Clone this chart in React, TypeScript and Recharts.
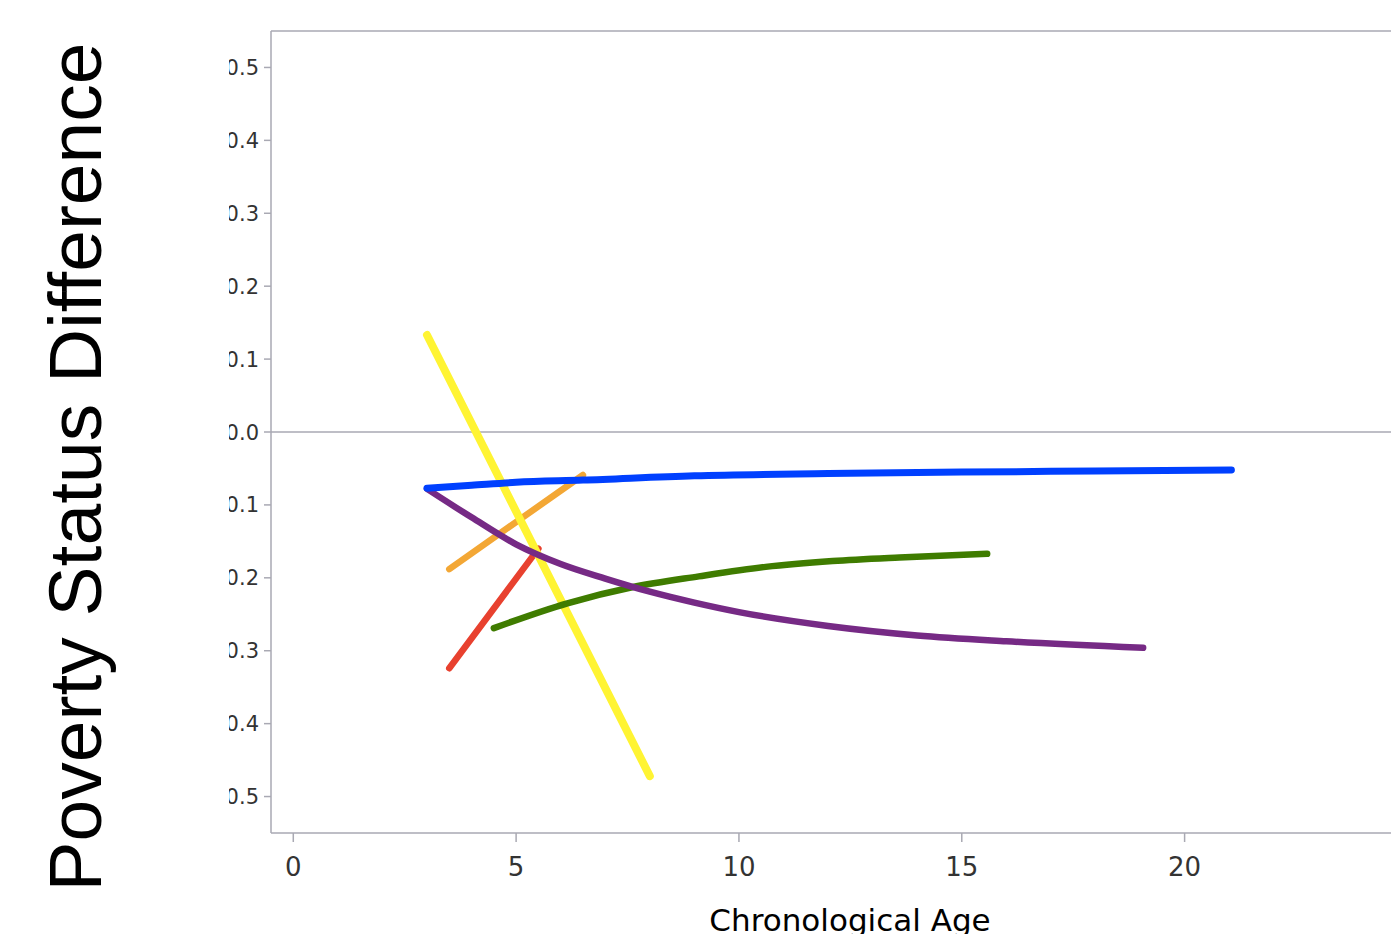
import React from 'react';
import { LineChart, Line, XAxis, YAxis, ReferenceLine, Label } from 'recharts';

// Tick values
const xTicks = [0, 5, 10, 15, 20];
const yTicks = [-0.5, -0.4, -0.3, -0.2, -0.1, 0, 0.1, 0.2, 0.3, 0.4, 0.5];

// Series (age, difference)
const yellowAge = [3, 8];
const yellowDiff = [0.133, -0.472];

const orangeAge = [3.5, 6.5];
const orangeDiff = [-0.188, -0.059];

const redAge = [3.5, 5.5];
const redDiff = [-0.324, -0.16];

const greenAge = [4.5, 6.15, 7.6, 9.1, 10.6, 12.1, 13.6, 15.57];
const greenDiff = [-0.269, -0.235, -0.213, -0.198, -0.185, -0.177, -0.172, -0.167];

const purpleAge = [3, 4, 5, 6, 7, 8, 9, 10, 12, 14, 16, 19.07];
const purpleDiff = [-0.078, -0.117, -0.154, -0.181, -0.201, -0.219, -0.234, -0.247, -0.266, -0.279, -0.287, -0.296];

const blueAge = [3, 4, 5, 6.5, 9, 12, 15, 18, 21.05];
const blueDiff = [-0.077, -0.073, -0.069, -0.066, -0.06, -0.057, -0.055, -0.0535, -0.052];

const toRows = (ages: number[], diffs: number[]) => ages.map((a, i) => ({ age: a, diff: diffs[i] }));

const yellowData = toRows(yellowAge, yellowDiff);
const orangeData = toRows(orangeAge, orangeDiff);
const redData = toRows(redAge, redDiff);
const greenData = toRows(greenAge, greenDiff);
const purpleData = toRows(purpleAge, purpleDiff);
const blueData = toRows(blueAge, blueDiff);

const AXIS_GRAY = '#a9a9b3';
const TICK_FONT = "'DejaVu Sans', Verdana, sans-serif";

const YTick = (props: any) => {
  const { x, y, payload, index } = props;
  const id = `yclip-${index}`;
  return (
    <g>
      <defs>
        <clipPath id={id}>
          <rect x={229} y={y - 30} width={200} height={60} />
        </clipPath>
      </defs>
      <text
        x={x}
        y={y}
        dy="0.36em"
        textAnchor="end"
        fontSize={21}
        fontFamily={TICK_FONT}
        fill="#333"
        clipPath={`url(#${id})`}
      >
        {Number(payload.value).toFixed(1)}
      </text>
    </g>
  );
};

const YTitle = () => (
  <text
    x={101}
    y={467}
    transform="rotate(-90, 101, 467)"
    textAnchor="middle"
    fontSize={75}
    fontFamily="'Liberation Sans', Arial, sans-serif"
    fill="#000"
  >
    Poverty Status Difference
  </text>
);

const XTitle = () => (
  <text x={850} y={931} textAnchor="middle" fontSize={31} fontFamily={TICK_FONT} fill="#000">
    Chronological Age
  </text>
);

export default function App() {
  return (
    <div
      style={{
        position: 'fixed',
        left: 0,
        top: 0,
        width: 1391,
        height: 934,
        overflow: 'hidden',
        background: '#fff',
      }}
    >
      <LineChart width={1460} height={960} margin={{ top: 30, right: 8, bottom: 0, left: 0 }}>
        <XAxis
          type="number"
          dataKey="age"
          domain={[-0.5, 26]}
          ticks={xTicks}
          allowDataOverflow
          height={127}
          stroke={AXIS_GRAY}
          strokeWidth={1.5}
          tickSize={9}
          tickMargin={16}
          tick={{ fontSize: 26, fontFamily: TICK_FONT, fill: '#333' }}
          tickLine={{ stroke: AXIS_GRAY }}
        >
          <Label content={XTitle} />
        </XAxis>
        <XAxis
          xAxisId="top"
          orientation="top"
          type="number"
          domain={[-0.5, 26]}
          height={1}
          tick={false}
          tickLine={false}
          stroke={AXIS_GRAY}
          strokeWidth={1.5}
        />
        <YAxis
          type="number"
          dataKey="diff"
          domain={[-0.55, 0.55]}
          ticks={yTicks}
          allowDataOverflow
          width={271}
          stroke={AXIS_GRAY}
          strokeWidth={1.5}
          tickSize={7}
          tickMargin={5}
          tick={<YTick />}
          tickLine={{ stroke: AXIS_GRAY }}
        >
          <Label content={YTitle} />
        </YAxis>
        <ReferenceLine y={0} stroke={AXIS_GRAY} strokeWidth={1.5} />
        <Line data={orangeData} dataKey="diff" type="linear" stroke="#f3a735" strokeWidth={6.5} dot={false} strokeLinecap="round" isAnimationActive={false} />
        <Line data={redData} dataKey="diff" type="linear" stroke="#e8412f" strokeWidth={6.5} dot={false} strokeLinecap="round" isAnimationActive={false} />
        <Line data={yellowData} dataKey="diff" type="linear" stroke="#fff433" strokeWidth={8} dot={false} strokeLinecap="round" isAnimationActive={false} />
        <Line data={greenData} dataKey="diff" type="monotone" stroke="#3f7c00" strokeWidth={6.5} dot={false} strokeLinecap="round" isAnimationActive={false} />
        <Line data={purpleData} dataKey="diff" type="monotone" stroke="#762a85" strokeWidth={6.5} dot={false} strokeLinecap="round" isAnimationActive={false} />
        <Line data={blueData} dataKey="diff" type="monotone" stroke="#0040ff" strokeWidth={7} dot={false} strokeLinecap="round" isAnimationActive={false} />
      </LineChart>
    </div>
  );
}
